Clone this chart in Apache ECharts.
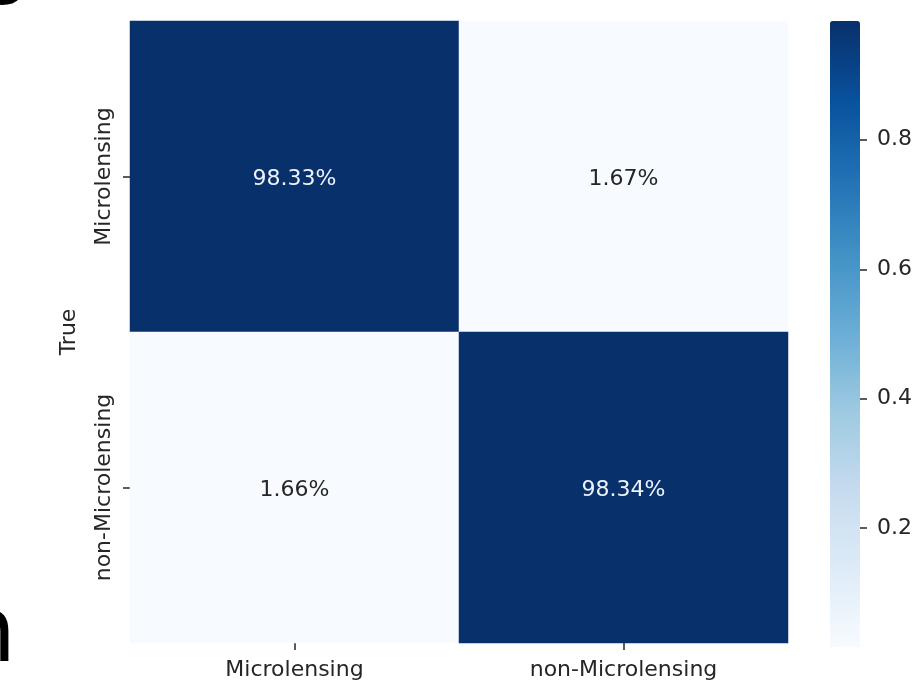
<!DOCTYPE html>
<html>
<head>
<meta charset="utf-8">
<script src="https://cdn.jsdelivr.net/npm/echarts@6/dist/echarts.min.js"></script>
<style>
  html, body { margin: 0; padding: 0; background: #ffffff; }
  #chart { width: 921px; height: 689px; }
</style>
</head>
<body>
<div id="chart"></div>
<script>
// Confusion matrix (row-normalised), rows = true class, columns = predicted class
const predictedLabels = ['Microlensing', 'non-Microlensing'];
const trueLabels = ['Microlensing', 'non-Microlensing'];
const rowMicrolensing = [0.9833, 0.0167];
const rowNonMicrolensing = [0.0166, 0.9834];
const colorbarTicks = [0.2, 0.4, 0.6, 0.8];

// Matplotlib "Blues" colormap stops
const blues = ['#f7fbff', '#deebf7', '#c6dbef', '#9ecae1', '#6baed6',
               '#4292c6', '#2171b5', '#08519c', '#08306b'];

const rows = [rowMicrolensing, rowNonMicrolensing];
const cells = [];
rows.forEach((row, yi) => {
  row.forEach((v, xi) => {
    cells.push({
      value: [xi, yi, v],
      label: { color: v > 0.5 ? '#eef3fa' : '#262626' }
    });
  });
});
const allValues = rows.flat();
const vMin = Math.min(...allValues);
const vMax = Math.max(...allValues);

const FONT = 'DejaVu Sans';
const TXT = '#262626';

const chart = echarts.init(document.getElementById('chart'), null, { renderer: 'canvas' });

chart.setOption({
  backgroundColor: '#ffffff',
  animation: false,
  textStyle: { fontFamily: FONT },
  grid: [
    { left: 130, top: 21, width: 658, height: 622 },
    // colorbar axis: its left edge sits on the right side of the colour bar
    { left: 860, top: 21, width: 40, height: 626 }
  ],
  xAxis: [
    {
      type: 'category',
      gridIndex: 0,
      data: predictedLabels,
      position: 'bottom',
      axisLine: { show: false },
      axisTick: { show: true, alignWithLabel: true, length: 7, lineStyle: { color: TXT, width: 1.5 } },
      axisLabel: { fontSize: 22, color: TXT, margin: 16, fontFamily: FONT },
      splitLine: { show: false },
      splitArea: { show: false }
    },
    { type: 'value', gridIndex: 1, show: false, min: 0, max: 1 }
  ],
  yAxis: [
    {
      type: 'category',
      gridIndex: 0,
      data: trueLabels,
      inverse: true,
      name: 'True',
      nameLocation: 'middle',
      nameRotate: 90,
      nameGap: 50,
      nameTextStyle: { fontSize: 22, color: TXT, fontFamily: FONT },
      axisLine: { show: false },
      axisTick: { show: true, alignWithLabel: true, length: 7, lineStyle: { color: TXT, width: 1.5 } },
      axisLabel: { fontSize: 22, color: TXT, margin: 15, rotate: 90, fontFamily: FONT },
      splitLine: { show: false },
      splitArea: { show: false }
    },
    {
      type: 'value',
      gridIndex: 1,
      min: vMin,
      max: vMax,
      position: 'left',
      z: 20,
      axisLine: { show: false },
      splitLine: { show: false },
      axisTick: {
        show: true, inside: true, length: 7, customValues: colorbarTicks,
        lineStyle: { color: TXT, width: 1.5 }
      },
      axisLabel: {
        show: true, inside: true, customValues: colorbarTicks, fontSize: 22, color: TXT, margin: 17,
        fontFamily: FONT, formatter: v => v.toFixed(1)
      }
    }
  ],
  visualMap: {
    type: 'continuous',
    min: vMin,
    max: vMax,
    seriesIndex: 0,
    calculable: false,
    realtime: false,
    hoverLink: false,
    orient: 'vertical',
    left: 830,
    top: 21,
    padding: 0,
    itemWidth: 30,
    itemHeight: 626,
    text: null,
    showLabel: false,
    inRange: { color: blues }
  },
  series: [
    {
      type: 'heatmap',
      xAxisIndex: 0,
      yAxisIndex: 0,
      data: cells,
      label: {
        show: true,
        fontSize: 22,
        fontFamily: FONT,
        offset: [0, 3],
        formatter: p => (p.value[2] * 100).toFixed(2) + '%'
      },
      itemStyle: { borderWidth: 0 },
      emphasis: { disabled: true }
    },
    {
      type: 'scatter',
      xAxisIndex: 1,
      yAxisIndex: 1,
      data: []
    }
  ],
  graphic: [
    {
      type: 'text',
      left: -24, top: -82,
      silent: true,
      style: { text: 'g', font: '90px "DejaVu Sans"', fill: '#000000' }
    },
    {
      type: 'text',
      left: -41, top: 593,
      silent: true,
      style: { text: 'n', font: '90px "DejaVu Sans"', fill: '#000000' }
    }
  ]
});
</script>
</body>
</html>
